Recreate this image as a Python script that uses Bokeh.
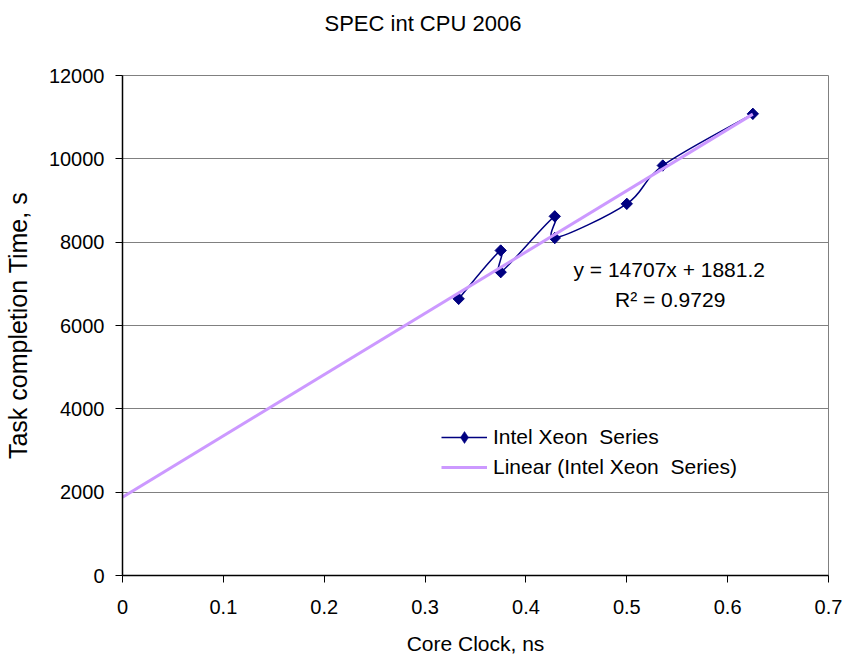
import numpy as np
from bokeh.plotting import figure
from bokeh.models import Legend, LegendItem, Label, Range1d, FixedTicker, ColumnDataSource, Title
from bokeh.embed import file_html
from bokeh.resources import INLINE

# ---- data ----
core_clock_ns = [0.3333, 0.375, 0.375, 0.4286, 0.4286, 0.5, 0.5357, 0.625]
completion_s = [6640, 7800, 7280, 8620, 8100, 8920, 9840, 11080]
trend_slope = 14707
trend_intercept = 1881.2
r_squared = 0.9729
x_ticks = [0, 0.1, 0.2, 0.3, 0.4, 0.5, 0.6, 0.7]
y_ticks = [0, 2000, 4000, 6000, 8000, 10000, 12000]
title_text = "SPEC int CPU 2006"
series_name = "Intel Xeon  Series"
trend_name = "Linear (Intel Xeon  Series)"

FONT = "Liberation Sans"
NAVY = "#000080"
PURPLE = "#CC99FF"

# Excel-style smoothed line: cubic Bezier segments (Catmull-Rom control points)
P = np.column_stack([core_clock_ns, completion_s]).astype(float)
Pm = np.vstack([P[:1], P[:-1]])
Pp = np.vstack([P[1:], P[-1:]])
T = (Pp - Pm) / 6.0
c0 = P[:-1] + T[:-1]
c1 = P[1:] - T[1:]

p = figure(width=846, height=658, output_backend="svg", toolbar_location=None,
           x_range=Range1d(0, 0.7), y_range=Range1d(0, 12000),
           min_border_left=122, min_border_right=18, min_border_top=75,
           min_border_bottom=83, background_fill_color="white",
           border_fill_color="white")

p.title.text = title_text
p.title.align = "left"
p.title.offset = 202
p.title.vertical_align = "top"
p.title.standoff = 16
p.title.text_font = FONT
p.title.text_font_size = "22px"
p.title.text_font_style = "normal"
p.title.text_color = "black"

# spacer panel between the plot area and the title
spacer = Title(text=" ", standoff=27, text_font_size="1px")
p.add_layout(spacer, "above")

p.outline_line_color = "#808080"
p.outline_line_width = 1

p.xgrid.visible = False
p.ygrid.ticker = FixedTicker(ticks=y_ticks)
p.ygrid.grid_line_color = "#808080"
p.ygrid.grid_line_width = 1

p.xaxis.ticker = FixedTicker(ticks=x_ticks)
p.yaxis.ticker = FixedTicker(ticks=y_ticks)
for ax in (p.xaxis, p.yaxis):
    ax.axis_line_color = "black"
    ax.axis_line_width = 1.5
    ax.major_tick_line_color = "black"
    ax.major_tick_line_width = 1
    ax.major_tick_out = 7
    ax.major_tick_in = 0
    ax.minor_tick_line_color = None
    ax.major_label_text_font = FONT
    ax.major_label_text_font_size = "20px"
    ax.major_label_text_color = "black"
    ax.axis_label_text_font = FONT
    ax.axis_label_text_font_style = "normal"
    ax.axis_label_text_color = "black"

p.xaxis.axis_label = "Core Clock, ns"
p.xaxis.axis_label_text_font_size = "21px"
p.xaxis.major_label_standoff = 17
p.xaxis.axis_label_standoff = 15

p.yaxis.axis_label = "Task completion Time, s"
p.yaxis.axis_label_text_font_size = "25px"
p.yaxis.major_label_standoff = 11
p.yaxis.axis_label_standoff = 14

src = ColumnDataSource(data=dict(x=core_clock_ns, y=completion_s))

# smoothed series line
bez = p.bezier(x0=P[:-1, 0], y0=P[:-1, 1], x1=P[1:, 0], y1=P[1:, 1],
               cx0=c0[:, 0], cy0=c0[:, 1], cx1=c1[:, 0], cy1=c1[:, 1],
               line_color=NAVY, line_width=1.5)
pts = p.scatter(x="x", y="y", source=src, marker="square", angle=np.pi / 4,
                size=8, fill_color=NAVY, line_color=NAVY)
# diamond drawn inside the rotated squares (gives the legend its marker)
dia = p.scatter(x="x", y="y", source=src, marker="diamond",
                size=11, fill_color=NAVY, line_color=NAVY, line_width=0.5)

# linear trendline
trend_x = np.array([0.0, max(core_clock_ns)])
trend_y = trend_slope * trend_x + trend_intercept
trend = p.line(x=trend_x, y=trend_y, line_color=PURPLE, line_width=3)

eq = Label(x=0.5421, y=7344, text=f"y = {trend_slope}x + {trend_intercept}",
           text_align="center", text_baseline="middle", text_font=FONT,
           text_font_size="21px", text_color="black")
r2 = Label(x=0.5430, y=6624, text=f"R\u00b2 = {r_squared}",
           text_align="center", text_baseline="middle", text_font=FONT,
           text_font_size="21px", text_color="black")
p.add_layout(eq)
p.add_layout(r2)

legend = Legend(items=[LegendItem(label=series_name, renderers=[bez, dia]),
                       LegendItem(label=trend_name, renderers=[trend])],
                location=(319, 93), padding=0, margin=0, spacing=0,
                glyph_width=46, glyph_height=30, label_height=30, label_standoff=6,
                background_fill_alpha=0, border_line_alpha=0,
                label_text_font=FONT, label_text_font_size="21px",
                label_text_color="black")
p.add_layout(legend)

open("out.html", "w").write(file_html(p, INLINE))
